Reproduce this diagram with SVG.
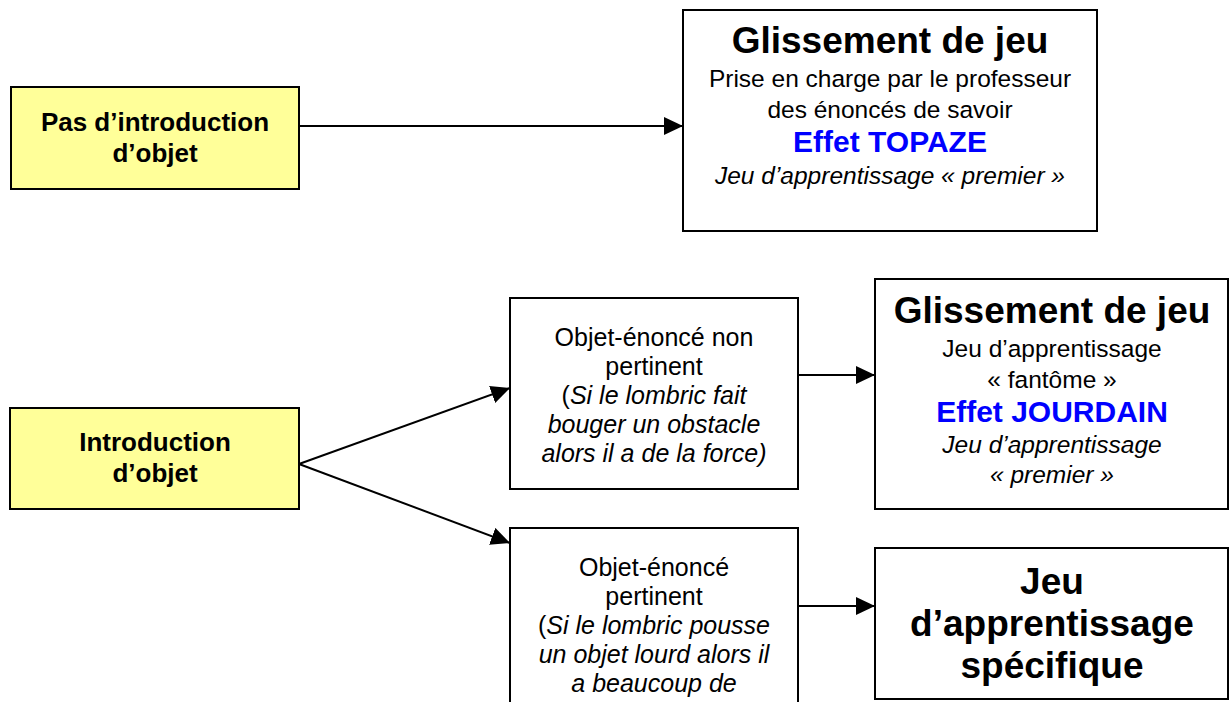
<svg xmlns="http://www.w3.org/2000/svg" width="1231" height="702" viewBox="0 0 1231 702">
<style>
text{font-family:"Liberation Sans",Arial,sans-serif;text-anchor:middle;fill:#000}
.box{fill:#fff;stroke:#000;stroke-width:2}
.yel{fill:#FFFF99;stroke:#000;stroke-width:2}
.b26{font-size:26px;font-weight:bold}
.b37{font-size:37px;font-weight:bold}
.b36{font-size:36px;font-weight:bold}
.r24{font-size:24.5px}
.r25{font-size:25px}
.i{font-style:italic}
.blue{font-size:30px;font-weight:bold;fill:#0000FF}
.con{stroke:#000;stroke-width:2;fill:none;marker-end:url(#ah)}
</style>
<defs>
<marker id="ah" markerUnits="userSpaceOnUse" markerWidth="20" markerHeight="20" refX="19" refY="9" orient="auto">
<path d="M0,0 L19,9 L0,18 z" fill="#000"/>
</marker>
</defs>
<rect width="1231" height="702" fill="#fff"/>
<g id="connectors">
<line class="con" x1="299" y1="126" x2="683" y2="126"/>
<line class="con" x1="299" y1="464" x2="510" y2="388"/>
<line class="con" x1="299" y1="464" x2="510" y2="543"/>
<line class="con" x1="798" y1="375" x2="875" y2="375"/>
<line class="con" x1="798" y1="606" x2="875" y2="606"/>
</g>
<g id="pas-introduction">
<rect class="yel" x="11" y="87" width="288" height="102"/>
<text class="b26" x="155" y="131">Pas d’introduction</text>
<text class="b26" x="155" y="162">d’objet</text>
</g>
<g id="glissement-topaze">
<rect class="box" x="683" y="10" width="414" height="221"/>
<text class="b37" x="890" y="53">Glissement de jeu</text>
<text class="r24" x="890" y="87">Prise en charge par le professeur</text>
<text class="r24" x="890" y="118">des énoncés de savoir</text>
<text class="blue" x="890" y="152">Effet TOPAZE</text>
<text class="r24 i" x="890" y="184">Jeu d’apprentissage « premier »</text>
</g>
<g id="introduction">
<rect class="yel" x="10" y="408" width="289" height="101"/>
<text class="b26" x="155" y="451">Introduction</text>
<text class="b26" x="155" y="482">d’objet</text>
</g>
<g id="non-pertinent">
<rect class="box" x="510" y="298" width="288" height="191"/>
<text class="r25" x="654" y="346">Objet-énoncé non</text>
<text class="r25" x="654" y="375">pertinent</text>
<text class="r25" x="654" y="404">(<tspan class="i">Si le lombric fait</tspan></text>
<text class="r25 i" x="654" y="433">bouger un obstacle</text>
<text class="r25 i" x="654" y="462">alors il a de la force)</text>
</g>
<g id="glissement-jourdain">
<rect class="box" x="875" y="279" width="353" height="230"/>
<text class="b37" x="1052" y="323">Glissement de jeu</text>
<text class="r24" x="1052" y="357">Jeu d’apprentissage</text>
<text class="r24" x="1052" y="388">« fantôme »</text>
<text class="blue" x="1052" y="422">Effet JOURDAIN</text>
<text class="r24 i" x="1052" y="453">Jeu d’apprentissage</text>
<text class="r24 i" x="1052" y="483">« premier »</text>
</g>
<g id="pertinent">
<rect class="box" x="510" y="528" width="288" height="190"/>
<text class="r25" x="654" y="576">Objet-énoncé</text>
<text class="r25" x="654" y="605">pertinent</text>
<text class="r25" x="654" y="634">(<tspan class="i">Si le lombric pousse</tspan></text>
<text class="r25 i" x="654" y="663">un objet lourd alors il</text>
<text class="r25 i" x="654" y="692">a beaucoup de</text>
</g>
<g id="jeu-specifique">
<rect class="box" x="875" y="548" width="353" height="151"/>
<text class="b37" x="1052" y="594">Jeu</text>
<text class="b37" x="1052" y="636">d’apprentissage</text>
<text class="b37" x="1052" y="678">spécifique</text>
</g>
</svg>
